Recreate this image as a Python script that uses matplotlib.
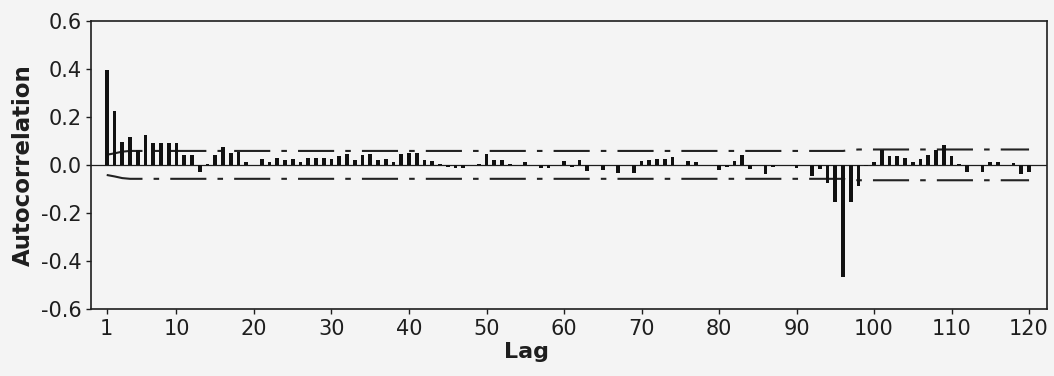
import matplotlib.pyplot as plt
import numpy as np
from matplotlib.lines import Line2D

# autocorrelation per lag
acf = [
    0.393, 0.226, 0.094, 0.118, 0.060, 0.126, 0.093, 0.093, 0.093, 0.093,
    0.042, 0.040, -0.030, 0.004, 0.040, 0.076, 0.050, 0.055, 0.010, 0.000,
    0.025, 0.010, 0.030, 0.020, 0.025, 0.010, 0.030, 0.030, 0.030, 0.025,
    0.035, 0.045, 0.020, 0.040, 0.045, 0.020, 0.025, 0.010, 0.045, 0.050,
    0.050, 0.020, 0.015, 0.005, -0.010, -0.015, -0.015, 0.000, 0.005, 0.045,
    0.020, 0.020, 0.005, 0.000, 0.010, 0.000, -0.015, -0.015, 0.000, 0.015,
    -0.010, 0.020, -0.024, 0.000, -0.020, 0.000, -0.035, 0.000, -0.035, 0.015,
    0.020, 0.025, 0.025, 0.032, 0.000, 0.015, 0.010, 0.000, 0.000, -0.020,
    -0.010, 0.015, 0.040, -0.017, 0.000, -0.037, -0.010, 0.000, 0.000, -0.015,
    0.000, -0.046, -0.018, -0.076, -0.153, -0.465, -0.153, -0.088, -0.005, 0.014,
    0.060, 0.035, 0.035, 0.028, 0.010, 0.024, 0.042, 0.060, 0.083, 0.035,
    0.005, -0.030, 0.000, -0.028, 0.010, 0.014, 0.000, 0.007, -0.038, -0.030,
]
lags = np.arange(1, len(acf) + 1)

# confidence band (+/-), read at a few lags
band_lags = [1, 2, 3, 4, 96, 97, 98, 120]
band_vals = [0.042, 0.048, 0.055, 0.058, 0.058, 0.062, 0.064, 0.064]

xtick_vals = [1, 10, 20, 30, 40, 50, 60, 70, 80, 90, 100, 110, 120]
ytick_vals = [-0.6, -0.4, -0.2, 0.0, 0.2, 0.4, 0.6]

bg = "#f4f4f4"
ink = "#1e1e1e"
plt.rcParams["font.family"] = "DejaVu Sans"
plt.rcParams["lines.scale_dashes"] = False

fig = plt.figure(figsize=(10.54, 3.76), dpi=100, facecolor=bg)
ax = fig.add_axes([0.0861, 0.178, 0.9070, 0.767], facecolor=bg)

ax.axhline(0, color=ink, linewidth=0.9, zorder=2)
ax.bar(lags, acf, width=0.48, color="#111111", zorder=3)

dash = (26, 8, 4, 8)
for sign in (1, -1):
    band = Line2D(band_lags, [sign * v for v in band_vals],
                  color="#222222", linewidth=1.5, zorder=2)
    band.set_dashes(dash)
    ax.add_line(band)

ax.set_xlim(-1.06, 122.28)
ax.set_ylim(-0.6, 0.6)
ax.set_xticks(xtick_vals)
ax.set_yticks(ytick_vals)
ax.set_yticklabels([f"{v:.1f}" for v in ytick_vals])

ax.tick_params(axis="both", direction="out", length=3.5, width=1.0,
               color=ink, labelsize=15, labelcolor=ink)
ax.tick_params(axis="x", pad=4)
ax.tick_params(axis="y", pad=3)
for spine in ax.spines.values():
    spine.set_color(ink)
    spine.set_linewidth(1.2)

ax.set_xlabel("Lag", fontsize=16, fontweight="bold", color=ink)
ax.xaxis.set_label_coords(0.456, -0.115)
ax.set_ylabel("Autocorrelation", fontsize=16.5, fontweight="bold",
              color=ink)
ax.yaxis.set_label_coords(-0.0586, 0.5)

fig.savefig("out.png", dpi=100, facecolor=bg)
